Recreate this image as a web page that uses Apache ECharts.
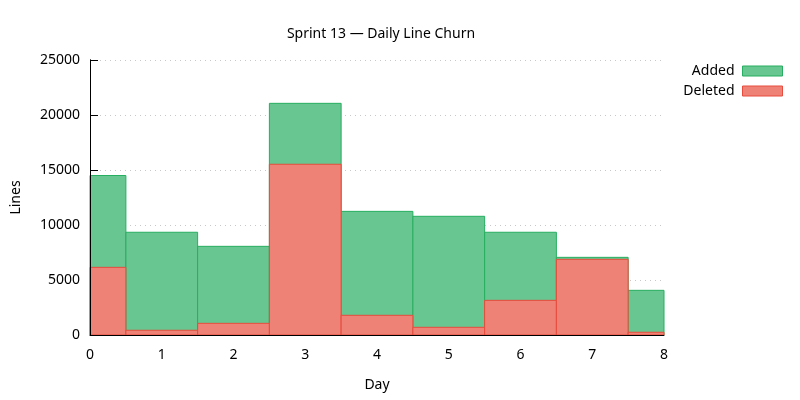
<!DOCTYPE html>
<html><head><meta charset="utf-8">
<script src="https://cdn.jsdelivr.net/npm/echarts@6/dist/echarts.min.js"></script>
<style>html,body{margin:0;padding:0;background:#fff}#c{width:800px;height:400px}</style>
</head><body><div id="c"></div>
<script>
const days = [0,1,2,3,4,5,6,7,8];
const added = [14500, 9340, 8060, 21060, 11240, 10790, 9340, 7060, 4060];
const deleted = [6150, 430, 1060, 15520, 1790, 700, 3150, 6880, 250];
const yTicks = [0, 5000, 10000, 15000, 20000, 25000];

const FONT = 'Noto Sans';
const FS = 14;
const GREEN_FILL = '#68c690', GREEN_LINE = '#27ae60';
const RED_FILL = '#ee8276', RED_LINE = '#e74c3c';

function boxRenderer(fill, stroke) {
  return function (params, api) {
    const x = api.value(0), y = api.value(1);
    const p0 = api.coord([x - 0.5, y]);
    const p1 = api.coord([x + 0.5, 0]);
    const cs = params.coordSys;
    const r = echarts.graphic.clipRectByRect(
      {x: p0[0], y: p0[1], width: p1[0] - p0[0], height: p1[1] - p0[1]},
      {x: cs.x, y: cs.y, width: cs.width, height: cs.height});
    if (!r) return null;
    return {type: 'rect', shape: r, style: {fill: fill, stroke: stroke, lineWidth: 1}};
  };
}

const chart = echarts.init(document.getElementById('c'), null, {renderer: 'canvas'});
chart.setOption({
  animation: false,
  backgroundColor: '#fff',
  textStyle: {fontFamily: FONT},
  title: {
    text: 'Sprint 13 \u2014 Daily Line Churn',
    left: 376, top: 22, textAlign: 'center',
    textStyle: {fontFamily: FONT, fontSize: FS, fontWeight: 'normal', color: '#000'}
  },
  legend: {
    right: 17, top: 64, orient: 'vertical', align: 'right',
    itemWidth: 40, itemHeight: 10, itemGap: 6, padding: 0,
    textStyle: {fontFamily: FONT, fontSize: FS, color: '#000', padding: [0, 3, 0, 0]},
    data: [
      {name: 'Added', icon: 'rect', itemStyle: {color: GREEN_FILL, borderColor: GREEN_LINE, borderWidth: 1}},
      {name: 'Deleted', icon: 'rect', itemStyle: {color: RED_FILL, borderColor: RED_LINE, borderWidth: 1}}
    ]
  },
  grid: {left: 90, right: 136, top: 60, bottom: 65, containLabel: false},
  xAxis: {
    type: 'value', min: 0, max: 8, interval: 1, z: 5,
    name: 'Day', nameLocation: 'middle', nameGap: 43,
    nameTextStyle: {fontFamily: FONT, fontSize: FS, color: '#000'},
    axisLine: {show: true, lineStyle: {color: '#000', width: 1}},
    axisTick: {show: false},
    axisLabel: {fontFamily: FONT, fontSize: FS, color: '#000', margin: 13},
    splitLine: {show: false}
  },
  yAxis: [{
    type: 'value', min: 0, max: 25000, interval: 5000,
    name: 'Lines', nameLocation: 'middle', nameGap: 67, nameRotate: 90,
    nameTextStyle: {fontFamily: FONT, fontSize: FS, color: '#000'},
    axisLine: {show: true, lineStyle: {color: '#000', width: 1}},
    axisTick: {show: true, inside: true, length: 8, lineStyle: {color: '#000'}},
    axisLabel: {fontFamily: FONT, fontSize: FS, color: '#000', margin: 10,
      formatter: v => yTicks.indexOf(v) >= 0 ? String(v) : ''},
    splitLine: {show: true, lineStyle: {color: '#c8c8c8', type: [1, 4], width: 1}}
  }, {
    type: 'value', min: 0, max: 25000, position: 'left', z: 5,
    axisLine: {show: true, onZero: false, lineStyle: {color: '#000', width: 1}},
    axisTick: {show: false}, axisLabel: {show: false}, splitLine: {show: false}
  }],
  series: [{
    name: 'Added', type: 'custom', yAxisIndex: 0,
    renderItem: boxRenderer(GREEN_FILL, GREEN_LINE),
    itemStyle: {color: GREEN_FILL},
    encode: {x: 0, y: 1},
    data: days.map((d, i) => [d, added[i]])
  }, {
    name: 'Deleted', type: 'custom', yAxisIndex: 0,
    renderItem: boxRenderer(RED_FILL, RED_LINE),
    itemStyle: {color: RED_FILL},
    encode: {x: 0, y: 1},
    data: days.map((d, i) => [d, deleted[i]])
  }]
});
</script></body></html>
